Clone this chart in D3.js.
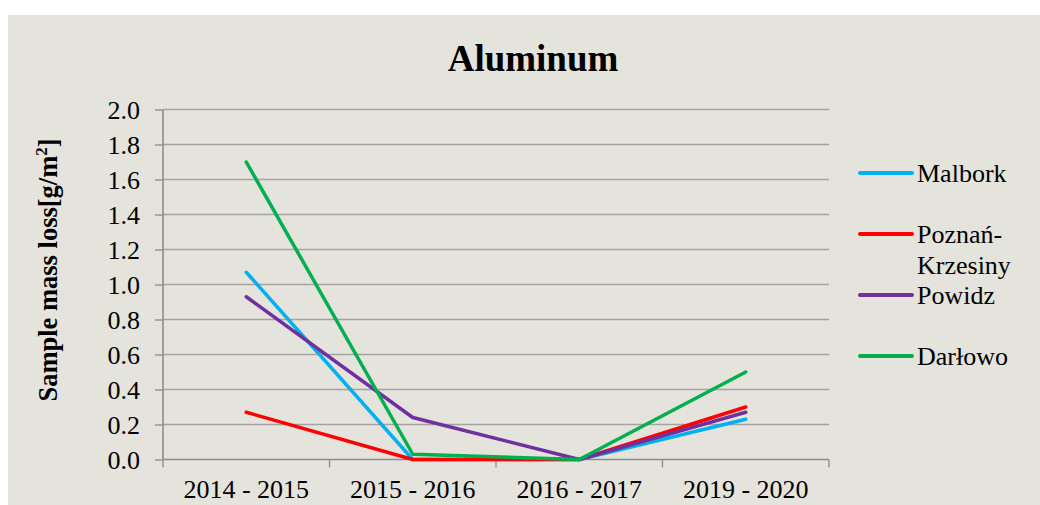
<!DOCTYPE html>
<html>
<head>
<meta charset="utf-8">
<script src="https://cdn.jsdelivr.net/npm/d3@7"></script>
<style>
  html, body { margin: 0; padding: 0; background: #ffffff; }
  svg { display: block; }
  text { font-family: "Liberation Serif", "Times New Roman", serif; fill: #000; }
</style>
</head>
<body>
<svg id="chart" width="1040" height="505"></svg>
<script>
// Sample mass loss of aluminium coupons per exposure period [g/m²]
const periods = ["2014 - 2015", "2015 - 2016", "2016 - 2017", "2019 - 2020"];
const malbork = [1.07, 0.00, 0.00, 0.23];
const poznan  = [0.27, 0.00, 0.00, 0.30];
const powidz  = [0.93, 0.24, 0.00, 0.27];
const darlowo = [1.70, 0.03, 0.00, 0.50];
const yTicks  = [0.0, 0.2, 0.4, 0.6, 0.8, 1.0, 1.2, 1.4, 1.6, 1.8, 2.0];

const series = [
  { name: ["Malbork"],              values: malbork, color: "#00B0F0" },
  { name: ["Poznań-", "Krzesiny"],  values: poznan,  color: "#FF0000" },
  { name: ["Powidz"],               values: powidz,  color: "#7030A0" },
  { name: ["Darłowo"],              values: darlowo, color: "#00B050" }
];

const serif = "'Liberation Serif', 'Times New Roman', serif";
const svg = d3.select("#chart");

// chart panel
svg.append("rect")
  .attr("x", 8).attr("y", 15)
  .attr("width", 1032).attr("height", 490)
  .attr("fill", "#E4E3DC");

const plot = { left: 163, right: 829, top: 109.5, bottom: 459.5 };

const x = d3.scaleBand().domain(periods).range([plot.left, plot.right]);
const y = d3.scaleLinear().domain([0, 2]).range([plot.bottom, plot.top]);

// horizontal gridlines
svg.append("g")
  .selectAll("line")
  .data(yTicks.filter(d => d > 0))
  .join("line")
  .attr("x1", plot.left).attr("x2", plot.right)
  .attr("y1", d => y(d)).attr("y2", d => y(d))
  .attr("stroke", "#A3A3A3").attr("stroke-width", 1.3);

// y axis
const yAxis = svg.append("g")
  .attr("transform", `translate(${plot.left},0)`)
  .call(d3.axisLeft(y).tickValues(yTicks).tickFormat(d3.format(".1f")).tickSize(8).tickPadding(15));
yAxis.attr("font-family", serif);
yAxis.select(".domain").attr("stroke", "#8C8C8C").attr("stroke-width", 1.6)
  .attr("d", `M0,${plot.top}V${plot.bottom}`);
yAxis.selectAll(".tick line").attr("stroke", "#8C8C8C").attr("stroke-width", 1.3);
yAxis.selectAll(".tick text")
  .attr("font-size", 26).attr("fill", "#000")
  .attr("font-family", serif)
  .attr("dy", "0.33em");

// x axis with ticks on the band boundaries
const xAxisG = svg.append("g");
xAxisG.append("line")
  .attr("x1", plot.left).attr("x2", plot.right)
  .attr("y1", plot.bottom).attr("y2", plot.bottom)
  .attr("stroke", "#8C8C8C").attr("stroke-width", 1.6);
const bounds = periods.map(p => x(p)).concat([x(periods[periods.length - 1]) + x.bandwidth()]);
xAxisG.selectAll("line.tk")
  .data(bounds)
  .join("line").attr("class", "tk")
  .attr("x1", d => d).attr("x2", d => d)
  .attr("y1", plot.bottom).attr("y2", plot.bottom + 8)
  .attr("stroke", "#8C8C8C").attr("stroke-width", 1.3);
xAxisG.selectAll("text")
  .data(periods)
  .join("text")
  .attr("x", d => x(d) + x.bandwidth() / 2)
  .attr("y", 498)
  .attr("text-anchor", "middle")
  .attr("font-size", 26)
  .text(d => d);

// series lines
const line = d3.line()
  .x((d, i) => x(periods[i]) + x.bandwidth() / 2)
  .y(d => y(d));

svg.append("g")
  .selectAll("path")
  .data(series)
  .join("path")
  .attr("d", d => line(d.values))
  .attr("fill", "none")
  .attr("stroke", d => d.color)
  .attr("stroke-width", 3.5)
  .attr("stroke-linejoin", "round")
  .attr("stroke-linecap", "round");

// title
svg.append("text")
  .attr("x", 533).attr("y", 71)
  .attr("text-anchor", "middle")
  .attr("font-size", 37).attr("font-weight", "bold")
  .text("Aluminum");

// y axis title
const yTitle = svg.append("text")
  .attr("transform", "translate(57,270) rotate(-90)")
  .attr("text-anchor", "middle")
  .attr("font-size", 26.5).attr("font-weight", "bold");
yTitle.append("tspan").text("Sample mass loss[g/m");
yTitle.append("tspan").attr("font-size", 17).attr("dy", -10).text("2");
yTitle.append("tspan").attr("dy", 10).text("]");

// legend
const legendY = [173, 234, 295, 356];
const legend = svg.append("g")
  .selectAll("g")
  .data(series)
  .join("g")
  .attr("transform", (d, i) => `translate(0,${legendY[i]})`);
legend.append("line")
  .attr("x1", 860).attr("x2", 912)
  .attr("y1", 0).attr("y2", 0)
  .attr("stroke", d => d.color)
  .attr("stroke-width", 4)
  .attr("stroke-linecap", "round");
legend.append("text")
  .attr("x", 917)
  .attr("y", 8.5)
  .attr("font-size", 26)
  .selectAll("tspan")
  .data(d => d.name)
  .join("tspan")
  .attr("x", 917)
  .attr("dy", (d, i) => i === 0 ? 0 : 31)
  .text(d => d);
</script>
</body>
</html>
